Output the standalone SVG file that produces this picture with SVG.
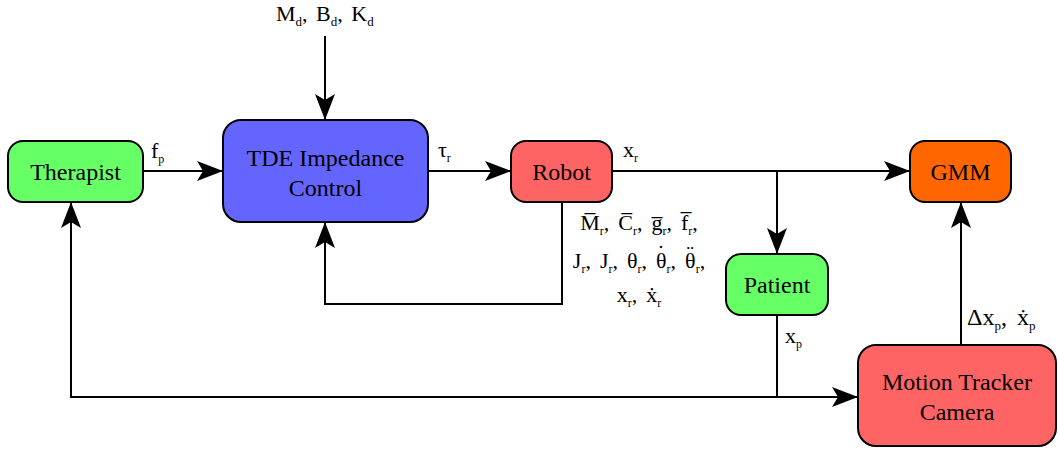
<svg xmlns="http://www.w3.org/2000/svg" width="1058" height="451" viewBox="0 0 1058 451" font-family="'Liberation Serif', 'Times New Roman', serif">
  <style>
    .box { stroke: #000; stroke-width: 2; }
    .green { fill: #66ff66; }
    .blue { fill: #6464ff; }
    .red { fill: #ff6464; }
    .orange { fill: #ff6600; }
    .name { font-family: 'Liberation Serif', 'Times New Roman', serif; font-size: 24px; fill: #000; text-anchor: middle; }
    .lbl { font-family: 'Liberation Serif', 'Times New Roman', serif; font-size: 22px; fill: #000; }
    .big { font-size: 24px; }
    .gains { word-spacing: 3px; }
    .state { text-anchor: middle; word-spacing: 3.5px; }
    .sub { font-size: 12px; }
    .big .sub, .gains .sub { font-size: 13px; }
    .wire { fill: none; stroke: #000; stroke-width: 2; }
    .arrow { marker-end: url(#head); }
  </style>
  <defs>
    <marker id="head" viewBox="-27 -11 28 22" markerWidth="28" markerHeight="22" refX="0" refY="0" orient="auto" markerUnits="userSpaceOnUse">
      <path d="M0,0 L-26,-10 L-20,0 L-26,10 Z" fill="#000"/>
    </marker>
  </defs>

  <!-- connectors -->
  <g id="connectors">
    <path class="wire arrow" d="M143,171 H223"/>
    <path class="wire arrow" d="M325,36 V120"/>
    <path class="wire arrow" d="M428,171 H511"/>
    <path class="wire arrow" d="M612,171 H910"/>
    <path class="wire arrow" d="M777,171 V254"/>
    <path class="wire arrow" d="M562,202 V304 H325 V222"/>
    <path class="wire" d="M777,315 V397"/>
    <path class="wire arrow" d="M777,397 H71 V202"/>
    <path class="wire arrow" d="M777,397 H858"/>
    <path class="wire arrow" d="M961,345 V202"/>
  </g>

  <!-- signal labels -->
  <g id="labels">
    <text class="lbl" x="151" y="158">f<tspan class="sub" dy="5">p</tspan></text>
    <text class="lbl" x="438" y="157">τ<tspan class="sub" dy="5">r</tspan></text>
    <text class="lbl" x="623" y="157">x<tspan class="sub" dy="5">r</tspan></text>
    <text class="lbl" x="785" y="343">x<tspan class="sub" dy="5">p</tspan></text>
    <text class="lbl big" y="325"><tspan x="967">Δx</tspan><tspan class="sub" dy="5">p</tspan><tspan dy="-5">,</tspan><tspan x="1017">ẋ</tspan><tspan class="sub" dy="5">p</tspan></text>
    <text class="lbl gains" x="276" y="21">M<tspan class="sub" dy="5">d</tspan><tspan dy="-5">, B</tspan><tspan class="sub" dy="5">d</tspan><tspan dy="-5">, K</tspan><tspan class="sub" dy="5">d</tspan></text>

    <!-- robot state quantities; dots over theta are raised spacing accents -->
    <text class="lbl state" x="639" y="230">M̅<tspan class="sub" dy="5">r</tspan><tspan dy="-5">, C̅</tspan><tspan class="sub" dy="5">r</tspan><tspan dy="-5">, g̅</tspan><tspan class="sub" dy="5">r</tspan><tspan dy="-5">, f̅</tspan><tspan class="sub" dy="5">r</tspan><tspan dy="-5">,</tspan></text>
    <text class="lbl state" x="639" y="268">J<tspan class="sub" dy="5">r</tspan><tspan dy="-5">, J</tspan><tspan class="sub" dy="5">r</tspan><tspan dy="-5">, θ</tspan><tspan class="sub" dy="5">r</tspan><tspan dy="-5">, θ</tspan><tspan dx="-9.2" dy="-8">˙</tspan><tspan class="sub" dx="1.9" dy="13">r</tspan><tspan dy="-5">, θ</tspan><tspan dx="-9.2" dy="-8">¨</tspan><tspan class="sub" dx="1.9" dy="13">r</tspan><tspan dy="-5">,</tspan></text>
    <text class="lbl state" x="639" y="302">x<tspan class="sub" dy="5">r</tspan><tspan dy="-5">, ẋ</tspan><tspan class="sub" dy="5">r</tspan></text>
  </g>

  <g id="therapist">
    <rect class="box green" x="8" y="141" width="135" height="61" rx="15"/>
    <text class="name" x="75.5" y="180">Therapist</text>
  </g>
  <g id="tde-control">
    <rect class="box blue" x="223" y="120" width="205" height="102" rx="18"/>
    <text class="name" x="325.5" y="166">TDE Impedance</text>
    <text class="name" x="325.5" y="196">Control</text>
  </g>
  <g id="robot">
    <rect class="box red" x="511" y="141" width="101" height="61" rx="15"/>
    <text class="name" x="561.5" y="180">Robot</text>
  </g>
  <g id="gmm">
    <rect class="box orange" x="910" y="141" width="101" height="61" rx="15"/>
    <text class="name" x="960.5" y="180">GMM</text>
  </g>
  <g id="patient">
    <rect class="box green" x="726" y="254" width="102" height="61" rx="15"/>
    <text class="name" x="777" y="293">Patient</text>
  </g>
  <g id="motion-tracker">
    <rect class="box red" x="858" y="345" width="198" height="101" rx="18"/>
    <text class="name" x="957" y="390">Motion Tracker</text>
    <text class="name" x="957" y="420">Camera</text>
  </g>
</svg>
